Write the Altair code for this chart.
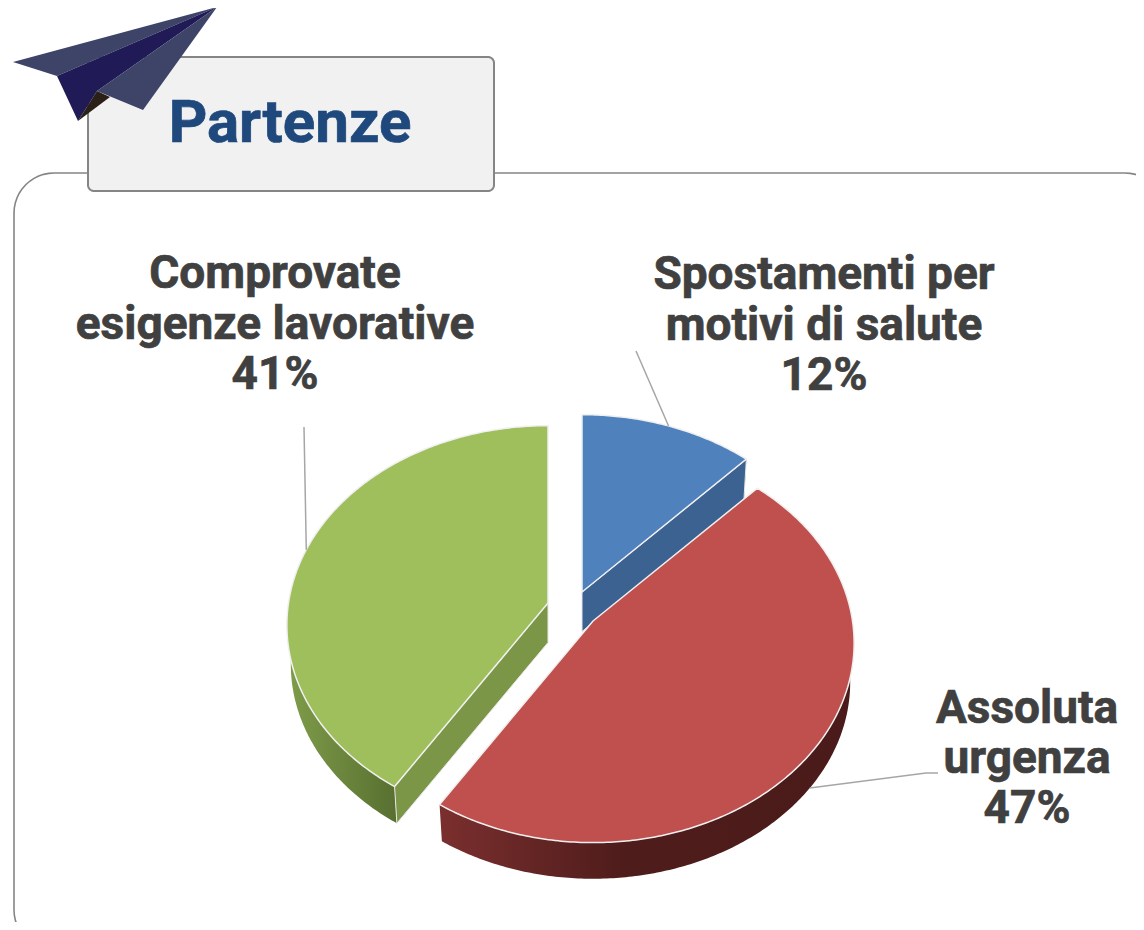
import math
import altair as alt
import pandas as pd

# ---- data ----
categories = ["Spostamenti per motivi di salute", "Assoluta urgenza", "Comprovate esigenze lavorative"]
shares = [12, 47, 41]
label_lines = [
    ["Spostamenti per", "motivi di salute", "12%"],
    ["Assoluta", "urgenza", "47%"],
    ["Comprovate", "esigenze lavorative", "41%"],
]
title_text = "Partenze"

# ---- layout and styles ----
OFF = 8  # page margin
W, H = 1128, 914
RX, RY, K = 259.5, 197.0, 0.111   # perspective pie model
DEPTH, BOTTOM_SCALE = 39.5, 0.985
apex = [(582, 592), (593, 621), (548, 603)]
face = ["#4f81bd", "#c0504d", "#9fbe5c"]
inner_wall = ["#3c6291", None, "#7c9648"]
outer = [
    [("#3c6291", 0), ("#3c6291", 1)],
    [("#7a2f2e", 0), ("#4e1c1b", 0.45), ("#4a1b1a", 1)],
    [("#7f9d4a", 0), ("#586f30", 1)],
]
wall_span = [None, None, 1.3]  # how far the outer wall runs before it hides behind the face
label_cx = [824, 1027, 275]
label_base = [[289, 340, 390], [723, 773, 823], [288, 339, 389]]
FONT = "Roboto"


def pt(ax, ay, phi, bottom=False):
    s, c = math.sin(phi), math.cos(phi)
    w = 1 + K * c
    f = BOTTOM_SCALE if bottom else 1.0
    return (ax + f * RX * s / w, ay - f * RY * c / w + (DEPTH if bottom else 0))


def arc(ax, ay, a0, a1, bottom=False):
    n = max(int(abs(a1 - a0) * 90), 2)
    return [pt(ax, ay, a0 + (a1 - a0) * i / n, bottom) for i in range(n + 1)]


def px(points):
    return [[x - OFF, y - OFF] for x, y in points]


def shape(points, fill=None, stroke=None, width=1.0, opacity=None, closed=True):
    coords = px(points)
    if closed:
        coords = coords + [coords[0]]
        geom = {"type": "Polygon", "coordinates": [coords]}
    else:
        geom = {"type": "LineString", "coordinates": coords}
    feat = {"type": "Feature", "properties": {}, "geometry": geom}
    kw = {}
    if fill is not None:
        kw["fill"] = fill
        kw["filled"] = True
    else:
        kw["filled"] = False
    if stroke is not None:
        kw["stroke"] = stroke
        kw["strokeWidth"] = width
    else:
        kw["strokeWidth"] = 0
    if opacity is not None:
        kw["strokeOpacity"] = opacity
    return alt.Chart(alt.Data(values=[feat])).mark_geoshape(**kw).project(type="identity", scale=1, translate=[0, 0])


def rrect(x0, y0, x1, y1, r):
    out = []
    for cx, cy, a in [(x1 - r, y0 + r, -90), (x1 - r, y1 - r, 0), (x0 + r, y1 - r, 90), (x0 + r, y0 + r, 180)]:
        for i in range(13):
            t = math.radians(a + 90 * i / 12)
            out.append((cx + r * math.cos(t), cy + r * math.sin(t)))
    return out


def grad(stops):
    return alt.LinearGradient(
        gradient="linear",
        stops=[alt.GradientStop(color=c, offset=o) for c, o in stops],
        x1=0, x2=1, y1=0, y2=0,
    )


layers = []

# frame and title box
layers.append(shape(rrect(14, 173, 1165, 950, 40), stroke="#858585", width=1.6))
layers.append(shape(rrect(88, 57, 494, 191, 6), fill="#f1f1f1", stroke="#858585", width=2))

# paper plane
layers.append(shape([(13, 62), (217, 7), (57, 76)], fill="#3d4468"))
layers.append(shape([(57, 76), (217, 7), (97, 91), (78, 121)], fill="#201a56"))
layers.append(shape([(97, 91), (110, 97), (78, 121)], fill="#2b2018"))
layers.append(shape([(217, 7), (97, 91), (143, 110)], fill="#3d4468"))

# pie slices
total = sum(shares)
bounds = []
acc = 0
for v in shares:
    bounds.append((acc / total * 2 * math.pi, (acc + v) / total * 2 * math.pi))
    acc += v

for i in [2, 0, 1]:
    ax, ay = apex[i]
    a0, a1 = bounds[i]
    # outer wall
    wall_end = a1 if wall_span[i] is None else a0 + wall_span[i]
    band = arc(ax, ay, a0, wall_end) + arc(ax, ay, wall_end, a0, bottom=True)
    layers.append(shape(band, fill=grad(outer[i])))
    # cut wall
    if inner_wall[i]:
        layers.append(shape(
            [(ax, ay), pt(ax, ay, a1 if i == 0 else a0), pt(ax, ay, a1 if i == 0 else a0, True), (ax, ay + DEPTH)],
            fill=inner_wall[i], stroke="#e6e6e6", width=1.0))
    # top face
    wedge = [(ax, ay)] + arc(ax, ay, a0, a1)
    layers.append(shape(wedge, fill=face[i], stroke="#f0f0f0", width=1.5))

# leader lines start from the slice mid angles
mid = [(b[0] + b[1]) / 2 for b in bounds]
s = pt(*apex[0], mid[0])
layers.append(shape([s, (636, 351)], stroke="#a6a6a6", width=1.5, closed=False))
s = pt(*apex[1], mid[1], True)
layers.append(shape([s, (926, 773), (938, 773)], stroke="#a6a6a6", width=1.5, closed=False))
s = pt(*apex[2], mid[2])
layers.append(shape([s, (304, 427)], stroke="#a6a6a6", width=1.5, closed=False))

# text
rows = []
for i, lines in enumerate(label_lines):
    for line, base in zip(lines, label_base[i]):
        rows.append({"t": line, "x": label_cx[i] - OFF, "y": base - OFF})
text = alt.Chart(pd.DataFrame(rows)).mark_text(
    font=FONT, fontWeight="bold", fontSize=46, color="#404040", align="center", baseline="alphabetic",
    stroke="#404040", strokeWidth=0.7
).encode(x=alt.X("x:Q", scale=None, axis=None), y=alt.Y("y:Q", scale=None, axis=None), text="t:N")
layers.append(text)

title = alt.Chart(pd.DataFrame([{"t": title_text, "x": 290 - OFF, "y": 142 - OFF}])).mark_text(
    font=FONT, fontWeight="bold", fontSize=60, color="#1f497d", align="center", baseline="alphabetic",
    stroke="#1f497d", strokeWidth=0.7
).encode(x=alt.X("x:Q", scale=None, axis=None), y=alt.Y("y:Q", scale=None, axis=None), text="t:N")
layers.append(title)

chart = alt.layer(*layers).properties(
    width=W, height=H, padding=0, autosize=alt.AutoSizeParams(type="none"), background="#ffffff"
).configure_view(stroke=None)

chart.save("out.html", embed_options={"renderer": "svg", "actions": False})
